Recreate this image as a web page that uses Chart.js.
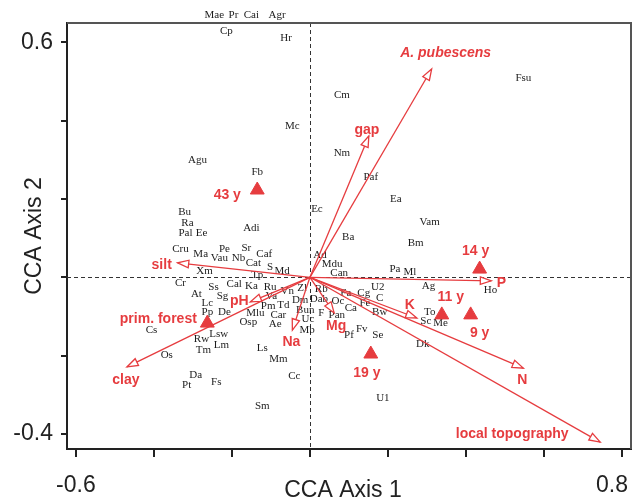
<!DOCTYPE html>
<html>
<head>
<meta charset="utf-8">
<script src="https://cdn.jsdelivr.net/npm/chart.js@4.4.1/dist/chart.umd.min.js"></script>
<style>
  html, body { margin: 0; padding: 0; background: #fff; }
  #wrap { width: 640px; height: 502px; }
</style>
</head>
<body>
<div id="wrap"><canvas id="myChart" width="640" height="502"></canvas></div>
<script>
// species scores
var species = ['Mae','Pr','Cai','Agr','Cp','Hr','Mc','Agu','Fb','Cm','Nm','Paf','Fsu','Ea','Ec','Vam','Ba','Bm',
  'Bu','Ra','Pal','Ee','Adi','Cru','Ma','Pe','Vau','Nb','Sr','Caf','Cat','S','Md','Tp','Xm','Ad','Mdu','Can','Pa','Ml',
  'Cr','Ss','Cal','Ka','Ru','Va','Vn','Zl','Rb','Dab','Oc','Fa','Cg','U2','C','Fe','Ca','Bw','Pan','F','Dm','Bun','Uc','Mb',
  'Pm','Td','Mlu','Car','Ae','Osp','At','Sg','Lc','Pp','De','Lsw','Rw','Tm','Lm','Cs','Os','Ls','Mm','Da','Pt','Fs','Cc','Sm',
  'Ag','Ho','To','Sc','Me','Pf','Fv','Se','Dk','U1'];
var speciesX = [-0.245,-0.196,-0.150,-0.084,-0.214,-0.061,-0.045,-0.288,-0.135,0.082,0.082,0.156,0.547,0.220,0.018,0.307,0.098,0.271,
  -0.321,-0.314,-0.319,-0.278,-0.150,-0.332,-0.280,-0.219,-0.232,-0.183,-0.163,-0.117,-0.145,-0.102,-0.071,-0.135,-0.270,0.026,0.057,0.075,0.218,0.256,
  -0.332,-0.247,-0.194,-0.150,-0.102,-0.099,-0.058,-0.020,0.029,0.023,0.072,0.092,0.138,0.174,0.179,0.141,0.105,0.179,0.069,0.029,-0.025,-0.012,-0.005,-0.007,
  -0.107,-0.068,-0.140,-0.081,-0.089,-0.158,-0.291,-0.224,-0.263,-0.263,-0.219,-0.234,-0.278,-0.273,-0.227,-0.406,-0.367,-0.122,-0.081,-0.293,-0.316,-0.240,-0.040,-0.122,
  0.304,0.463,0.307,0.297,0.335,0.100,0.133,0.174,0.289,0.187];
var speciesY = [0.670,0.670,0.670,0.670,0.629,0.611,0.386,0.300,0.269,0.466,0.317,0.256,0.509,0.200,0.174,0.141,0.103,0.088,
  0.167,0.139,0.113,0.113,0.126,0.072,0.060,0.072,0.049,0.049,0.075,0.060,0.037,0.026,0.016,0.006,0.016,0.057,0.034,0.011,0.021,0.014,
  -0.015,-0.025,-0.017,-0.022,-0.025,-0.048,-0.035,-0.027,-0.030,-0.055,-0.061,-0.040,-0.040,-0.025,-0.053,-0.066,-0.078,-0.089,-0.096,-0.091,-0.058,-0.084,-0.107,-0.135,
  -0.073,-0.071,-0.091,-0.096,-0.119,-0.114,-0.043,-0.048,-0.066,-0.089,-0.089,-0.145,-0.158,-0.186,-0.173,-0.135,-0.198,-0.181,-0.209,-0.250,-0.275,-0.267,-0.252,-0.329,
  -0.022,-0.032,-0.089,-0.112,-0.117,-0.147,-0.132,-0.147,-0.170,-0.308];

// environmental variables (arrow tips)
var envNames = ['A. pubescens','gap','silt','P','K','pH','Na','Mg','clay','N','local topography'];
var envX = [0.312,0.151,-0.339,0.465,0.274,-0.153,-0.045,0.062,-0.469,0.547,0.744];
var envY = [0.532,0.361,0.037,-0.009,-0.104,-0.063,-0.135,-0.091,-0.229,-0.232,-0.421];

// site groups (centroids)
var siteNames = ['43 y','14 y','11 y','9 y','19 y','prim. forest'];
var siteX = [-0.135,0.435,0.338,0.412,0.156,-0.263];
var siteY = [0.223,0.021,-0.096,-0.096,-0.196,-0.117];

var xTickLabels = ['-0.6','0.8'];
var yTickLabels = ['0.6','-0.4'];

// label placement, px from the mark
var envLabelOffset = [[14,-16],[-2,-6],[-16,2],[10,2],[-7,-13],[-11,-1],[-1,12],[2,13],[-1,13],[-1,12],[-88,-8]];
var siteLabelOffset = [[-30,5],[-4,-18],[9,-18],[9,18],[-4,19],[-49,-4]];

var red = '#e63c3f';
var sans = '"Liberation Sans", Arial, sans-serif';

function arrowHead(ctx, x0, y0, x1, y1) {
    var a = Math.atan2(y1 - y0, x1 - x0);
    var len = 11, hw = 3.8;
    var bx = x1 - len * Math.cos(a), by = y1 - len * Math.sin(a);
    ctx.beginPath();
    ctx.moveTo(x1, y1);
    ctx.lineTo(bx + hw * Math.sin(a), by - hw * Math.cos(a));
    ctx.lineTo(bx - hw * Math.sin(a), by + hw * Math.cos(a));
    ctx.closePath();
    ctx.fillStyle = '#fff';
    ctx.fill();
    ctx.stroke();
}

var biplot = {
    id: 'biplot',
    beforeDatasetsDraw: function(chart) {
        var ctx = chart.ctx, xs = chart.scales.x, ys = chart.scales.y, area = chart.chartArea;
        var x0 = xs.getPixelForValue(0), y0 = ys.getPixelForValue(0);
        ctx.save();
        // zero lines
        ctx.strokeStyle = '#333';
        ctx.lineWidth = 1;
        ctx.setLineDash([4, 3]);
        ctx.beginPath();
        ctx.moveTo(Math.round(x0) + 0.5, area.top);
        ctx.lineTo(Math.round(x0) + 0.5, area.bottom);
        ctx.moveTo(area.left, Math.round(y0) + 0.5);
        ctx.lineTo(area.right, Math.round(y0) + 0.5);
        ctx.stroke();
        ctx.setLineDash([]);

        // species names
        ctx.fillStyle = '#1c1c1c';
        ctx.font = '11px "Liberation Serif", "Times New Roman", serif';
        ctx.textAlign = 'center';
        ctx.textBaseline = 'middle';
        for (var i = 0; i < species.length; i++) {
            ctx.fillText(species[i], xs.getPixelForValue(speciesX[i]), ys.getPixelForValue(speciesY[i]));
        }

        // environmental arrows
        ctx.strokeStyle = red;
        ctx.lineWidth = 1.3;
        for (var j = 0; j < envNames.length; j++) {
            var px = xs.getPixelForValue(envX[j]), py = ys.getPixelForValue(envY[j]);
            ctx.beginPath();
            ctx.moveTo(x0, y0);
            ctx.lineTo(px, py);
            ctx.stroke();
            arrowHead(ctx, x0, y0, px, py);
        }
        ctx.restore();
    },
    afterDatasetsDraw: function(chart) {
        var ctx = chart.ctx, xs = chart.scales.x, ys = chart.scales.y;
        ctx.save();
        ctx.fillStyle = red;
        ctx.textAlign = 'center';
        ctx.textBaseline = 'middle';
        for (var j = 0; j < envNames.length; j++) {
            ctx.font = (j === 0 ? 'italic ' : '') + 'bold 14px ' + sans;
            ctx.fillText(envNames[j], xs.getPixelForValue(envX[j]) + envLabelOffset[j][0], ys.getPixelForValue(envY[j]) + envLabelOffset[j][1]);
        }
        ctx.font = 'bold 14px ' + sans;
        for (var k = 0; k < siteNames.length; k++) {
            ctx.fillText(siteNames[k], xs.getPixelForValue(siteX[k]) + siteLabelOffset[k][0], ys.getPixelForValue(siteY[k]) + siteLabelOffset[k][1]);
        }
        ctx.restore();
    },
    afterDraw: function(chart) {
        var ctx = chart.ctx, xs = chart.scales.x, area = chart.chartArea;
        ctx.save();
        // top and right frame
        ctx.strokeStyle = '#555';
        ctx.lineWidth = 2;
        ctx.beginPath();
        ctx.moveTo(area.left, area.top);
        ctx.lineTo(area.right, area.top);
        ctx.lineTo(area.right, area.bottom);
        ctx.stroke();

        // x tick labels
        ctx.fillStyle = '#222';
        ctx.font = '23px ' + sans;
        ctx.textAlign = 'center';
        ctx.textBaseline = 'alphabetic';
        xs.ticks.forEach(function(t) {
            var s = t.value.toFixed(1);
            if (xTickLabels.indexOf(s) < 0) return;
            var w = ctx.measureText(s).width;
            var px = Math.min(xs.getPixelForValue(t.value), chart.width - 12 - w / 2);
            ctx.fillText(s, px, area.bottom + 43);
        });

        // axis titles
        ctx.fillText('CCA Axis 1', 343, area.bottom + 48);
        ctx.translate(41, (area.top + area.bottom) / 2);
        ctx.rotate(-Math.PI / 2);
        ctx.fillText('CCA Axis 2', 0, 0);
        ctx.restore();
    }
};

var ctx = document.getElementById('myChart').getContext('2d');
var chart = new Chart(ctx, {
    type: 'scatter',
    data: {
        datasets: [{
            data: siteX.map(function(x, i) { return { x: x, y: siteY[i] }; }),
            pointStyle: 'triangle',
            pointRadius: 8,
            backgroundColor: red,
            borderColor: red,
            borderWidth: 1
        }]
    },
    options: {
        responsive: false,
        animation: false,
        devicePixelRatio: 1,
        layout: { padding: { top: 23, right: 7, left: 0, bottom: 0 } },
        plugins: { legend: { display: false }, tooltip: { enabled: false } },
        scales: {
            x: {
                type: 'linear',
                min: -0.6227,
                max: 0.823,
                ticks: { stepSize: 0.2, includeBounds: false, display: false },
                grid: { drawOnChartArea: false, drawTicks: true, tickLength: 8, color: '#222', lineWidth: 2 },
                border: { color: '#222', width: 2 },
                afterFit: function(s) { s.height = 53; s.paddingLeft = 0; s.paddingRight = 0; }
            },
            y: {
                type: 'linear',
                min: -0.4386,
                max: 0.6496,
                ticks: {
                    stepSize: 0.2,
                    includeBounds: false,
                    padding: 8,
                    color: '#222',
                    font: { size: 23, family: sans },
                    callback: function(v) {
                        var s = Number(v).toFixed(1);
                        return yTickLabels.indexOf(s) >= 0 ? s : '';
                    }
                },
                grid: { drawOnChartArea: false, drawTicks: true, tickLength: 6, color: '#222', lineWidth: 2 },
                border: { color: '#222', width: 2 },
                afterFit: function(s) { s.width = 67; s.paddingTop = 0; s.paddingBottom = 0; }
            }
        }
    },
    plugins: [biplot]
});
</script>
</body>
</html>
